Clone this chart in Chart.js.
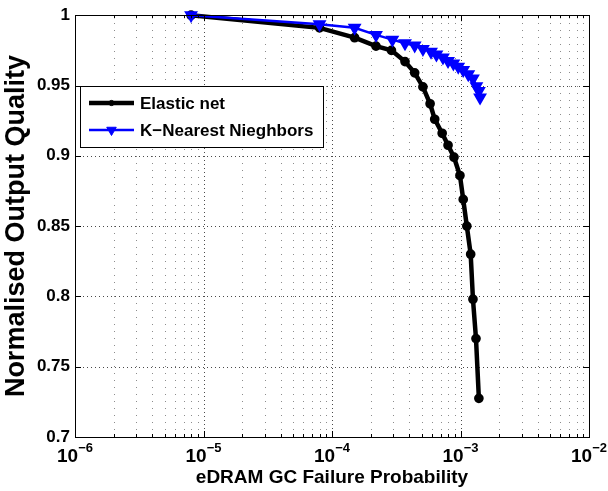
<!DOCTYPE html>
<html>
<head>
<meta charset="utf-8">
<script src="https://cdn.jsdelivr.net/npm/chart.js@4.4.1/dist/chart.umd.min.js"></script>
<style>
  html, body { margin: 0; padding: 0; background: #fff; }
  #wrap { width: 608px; height: 491px; position: relative; }
</style>
</head>
<body>
<div id="wrap"><canvas id="chart" width="608" height="491"></canvas></div>
<script>
// values
const elasticX = [8e-6, 8e-5, 1.5e-4, 2.2e-4, 2.9e-4, 3.7e-4, 4.4e-4, 5.1e-4, 5.8e-4, 6.3e-4,
  7.2e-4, 8.0e-4, 8.9e-4, 9.9e-4, 1.05e-3, 1.12e-3, 1.2e-3, 1.25e-3, 1.32e-3, 1.39e-3];
const elasticY = [1.0, 0.991, 0.984, 0.978, 0.975, 0.967, 0.959, 0.949, 0.937, 0.926,
  0.916, 0.9075, 0.899, 0.886, 0.869, 0.85, 0.83, 0.798, 0.770, 0.7275];
const knnX = [8e-6, 8e-5, 1.5e-4, 2.2e-4, 2.95e-4, 3.7e-4, 4.4e-4, 5.1e-4, 5.9e-4, 6.5e-4,
  7.3e-4, 8.0e-4, 8.8e-4, 9.6e-4, 1.05e-3, 1.15e-3, 1.25e-3, 1.33e-3, 1.39e-3, 1.42e-3];
const knnY = [1.0, 0.9935, 0.991, 0.986, 0.9826, 0.980, 0.9785, 0.976, 0.974, 0.972,
  0.970, 0.9674, 0.9657, 0.9634, 0.961, 0.958, 0.955, 0.9495, 0.946, 0.9414];

const seriesLabels = ['Elastic net', 'K\u2212Nearest Nieghbors'];

// axis ticks
const xDecades = [1e-6, 1e-5, 1e-4, 1e-3, 1e-2];
const xDecadeExp = ['\u22126', '\u22125', '\u22124', '\u22123', '\u22122'];
const xMinorSteps = [2, 3, 4, 5, 6, 7, 8, 9];
const yTicks = [0.7, 0.75, 0.8, 0.85, 0.9, 0.95, 1];
const yTickLabels = ['0.7', '0.75', '0.8', '0.85', '0.9', '0.95', '1'];

const FONT = '"Liberation Sans", Arial, Helvetica, sans-serif';
const toPoints = (xs, ys) => xs.map((x, i) => ({ x, y: ys[i] }));

// dotted grid, box, inward ticks, superscript x labels and the legend box
const matlabAxes = {
  id: 'matlabAxes',
  beforeDatasetsDraw(chart) {
    const { ctx, chartArea: a, scales } = chart;
    ctx.save();
    ctx.lineWidth = 1;
    // minor x grid
    ctx.strokeStyle = '#8c8c8c';
    ctx.setLineDash([1, 6]);
    xDecades.slice(0, -1).forEach(d => {
      xMinorSteps.forEach(m => {
        const px = Math.round(scales.x.getPixelForValue(d * m)) + 0.5;
        ctx.beginPath(); ctx.moveTo(px, a.bottom); ctx.lineTo(px, a.top); ctx.stroke();
      });
    });
    // major grid
    ctx.strokeStyle = '#4a4a4a';
    ctx.setLineDash([1, 3]);
    xDecades.forEach(d => {
      const px = Math.round(scales.x.getPixelForValue(d)) + 0.5;
      ctx.beginPath(); ctx.moveTo(px, a.bottom); ctx.lineTo(px, a.top); ctx.stroke();
    });
    yTicks.forEach(v => {
      const py = Math.round(scales.y.getPixelForValue(v)) + 0.5;
      ctx.beginPath(); ctx.moveTo(a.left, py); ctx.lineTo(a.right, py); ctx.stroke();
    });
    ctx.restore();
  },
  afterDatasetsDraw(chart) {
    const { ctx, chartArea: a, scales } = chart;
    ctx.save();
    ctx.setLineDash([]);
    ctx.strokeStyle = '#000';
    ctx.lineWidth = 1;
    ctx.strokeRect(Math.round(a.left) + 0.5, Math.round(a.top) + 0.5,
      Math.round(a.right - a.left), Math.round(a.bottom - a.top));

    // inward ticks
    const tick = (x1, y1, x2, y2) => { ctx.beginPath(); ctx.moveTo(x1, y1); ctx.lineTo(x2, y2); ctx.stroke(); };
    xDecades.forEach((d, i) => {
      const px = Math.round(scales.x.getPixelForValue(d)) + 0.5;
      tick(px, a.bottom, px, a.bottom - 6);
      tick(px, a.top, px, a.top + 6);
      if (i < xDecades.length - 1) {
        xMinorSteps.forEach(m => {
          const mx = Math.round(scales.x.getPixelForValue(d * m)) + 0.5;
          tick(mx, a.bottom, mx, a.bottom - 3);
          tick(mx, a.top, mx, a.top + 3);
        });
      }
    });
    yTicks.forEach(v => {
      const py = Math.round(scales.y.getPixelForValue(v)) + 0.5;
      tick(a.left, py, a.left + 6, py);
      tick(a.right, py, a.right - 6, py);
    });

    // x tick labels 10^n
    ctx.fillStyle = '#000';
    ctx.textBaseline = 'alphabetic';
    ctx.textAlign = 'left';
    xDecades.forEach((d, i) => {
      const px = scales.x.getPixelForValue(d);
      ctx.font = 'bold 19px ' + FONT;
      const w1 = ctx.measureText('10').width;
      ctx.font = 'bold 13px ' + FONT;
      const w2 = ctx.measureText(xDecadeExp[i]).width;
      const x0 = px - (w1 + w2) / 2;
      ctx.font = 'bold 19px ' + FONT;
      ctx.fillText('10', x0, a.bottom + 25);
      ctx.font = 'bold 13px ' + FONT;
      ctx.fillText(xDecadeExp[i], x0 + w1, a.bottom + 15);
    });

    // legend
    const lx = 80, ly = 86, lw = 243, lh = 61;
    ctx.fillStyle = '#fff';
    ctx.fillRect(lx, ly, lw, lh);
    ctx.strokeStyle = '#000';
    ctx.lineWidth = 1;
    ctx.strokeRect(lx + 0.5, ly + 0.5, lw, lh);
    chart.data.datasets.forEach((ds, i) => {
      const rowY = ly + 17 + i * 27;
      ctx.strokeStyle = ds.borderColor;
      ctx.lineWidth = ds.borderWidth;
      ctx.beginPath(); ctx.moveTo(lx + 9, rowY); ctx.lineTo(lx + 54, rowY); ctx.stroke();
      ctx.lineWidth = 1;
      ctx.fillStyle = ds.pointBackgroundColor;
      Chart.helpers.drawPoint(ctx, {
        pointStyle: ds.pointStyle, rotation: ds.pointRotation || 0,
        radius: ds.pointRadius, borderWidth: 1
      }, lx + 31.5, rowY);
      ctx.fillStyle = '#000';
      ctx.font = 'bold 17px ' + FONT;
      ctx.textBaseline = 'middle';
      ctx.fillText(seriesLabels[i], lx + 60, rowY + 1);
    });
    ctx.restore();
  }
};

new Chart(document.getElementById('chart'), {
  type: 'line',
  data: {
    datasets: [
      {
        label: seriesLabels[0],
        data: toPoints(elasticX, elasticY),
        borderColor: '#000000',
        borderWidth: 4.5,
        pointStyle: 'circle',
        pointRadius: 2.6,
        pointBackgroundColor: '#000000',
        pointBorderColor: '#000000',
        tension: 0,
        clip: false,
        order: 2
      },
      {
        label: seriesLabels[1],
        data: toPoints(knnX, knnY),
        borderColor: '#0000ff',
        borderWidth: 2.5,
        pointStyle: 'triangle',
        pointRotation: 180,
        pointRadius: 5.5,
        pointBackgroundColor: '#0000ff',
        pointBorderColor: '#0000ff',
        tension: 0,
        clip: false,
        order: 1
      }
    ]
  },
  options: {
    responsive: false,
    devicePixelRatio: 1,
    animation: false,
    layout: { padding: { left: 0, right: 19, top: 12, bottom: 0 } },
    plugins: { legend: { display: false }, tooltip: { enabled: false } },
    scales: {
      x: {
        type: 'logarithmic',
        min: 1e-6,
        max: 1e-2,
        grid: { display: false, drawTicks: false },
        border: { display: false },
        ticks: { display: false },
        title: {
          display: true,
          text: 'eDRAM GC Failure Probability',
          color: '#000',
          font: { family: FONT, size: 19, weight: 'bold' },
          padding: { top: 0, bottom: 2 }
        },
        afterFit(scale) { scale.height = 54; }
      },
      y: {
        type: 'linear',
        min: 0.7,
        max: 1,
        grid: { display: false, drawTicks: false },
        border: { display: false },
        afterBuildTicks(scale) { scale.ticks = yTicks.map(v => ({ value: v })); },
        ticks: {
          color: '#000',
          padding: 5,
          font: { family: FONT, size: 17, weight: 'bold' },
          callback: (v) => {
            const i = yTicks.findIndex(t => Math.abs(t - v) < 1e-9);
            return i >= 0 ? yTickLabels[i] : '';
          }
        },
        title: {
          display: true,
          text: 'Normalised Output Quality',
          color: '#000',
          font: { family: FONT, size: 27, weight: 'bold' },
          padding: { top: 0, bottom: 0 }
        },
        afterFit(scale) { scale.width = 75; }
      }
    }
  },
  plugins: [matlabAxes]
});
</script>
</body>
</html>
